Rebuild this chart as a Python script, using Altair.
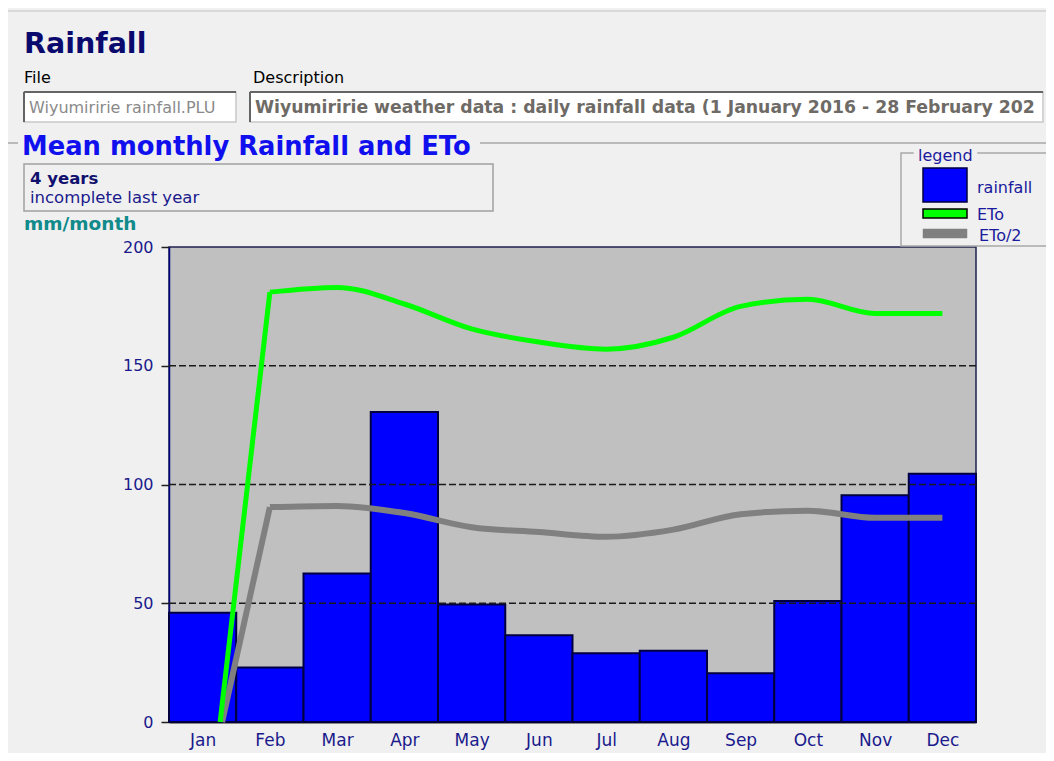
import altair as alt
import pandas as pd

# ---------------- data ----------------
months = ["Jan", "Feb", "Mar", "Apr", "May", "Jun", "Jul", "Aug", "Sep", "Oct", "Nov", "Dec"]
rainfall = [46, 23, 62.5, 130.5, 49.5, 36.5, 29, 30, 20.5, 51, 95.5, 104.5]

# ETo curve read at month centres (first point is where the curve leaves 0)
eto_pos = [0.76, 1.5, 2.5, 3.5, 4.5, 5.5, 6.5, 7.5, 8.5, 9.5, 10.5, 11.5]
eto = [0, 181, 183, 176, 165.5, 160, 157, 162, 175, 178, 172, 172]
eto_half_pos = [0.79, 1.5, 2.5, 3.5, 4.5, 5.5, 6.5, 7.5, 8.5, 9.5, 10.5, 11.5]
eto_half = [0, 90.5, 91, 88, 82, 80, 78, 81, 87.5, 89, 86, 86]

y_ticks = [0, 50, 100, 150, 200]
grid_values = [50, 100, 150]

FONT = "DejaVu Sans"
NAVY = "#1a1a8c"

bars_df = pd.DataFrame({
    "month": months,
    "start": list(range(len(months))),
    "end": [i + 1 for i in range(len(months))],
    "rain": rainfall,
})
eto_df = pd.DataFrame({"pos": eto_pos, "value": eto})
half_df = pd.DataFrame({"pos": eto_half_pos, "value": eto_half})
grid_df = pd.DataFrame({"v": grid_values})

label_expr = "[" + ",".join("'%s'" % m for m in months) + "][floor(datum.value)]"

xscale = alt.Scale(domain=[0, len(months)], nice=False, zero=False)
yscale = alt.Scale(domain=[0, 200], nice=False)

x_axis = alt.Axis(values=[i + 0.5 for i in range(len(months))], labelExpr=label_expr,
                  title=None, grid=False, ticks=False, tickSize=0, labelPadding=23,
                  labelBaseline="alphabetic", labelFont=FONT, labelFontSize=17,
                  labelColor=NAVY, domainColor="#1a1a1a", domainWidth=2)
y_axis = alt.Axis(values=y_ticks, title=None, grid=False, tickSize=8, tickColor="#202020",
                  tickWidth=1.5, labelPadding=8, labelFont=FONT, labelFontSize=16,
                  labelColor=NAVY, domainColor="#000080", domainWidth=1.5)

bars = alt.Chart(bars_df).mark_rect(color="#0000FF", stroke="#000040", strokeWidth=2).encode(
    x=alt.X("start:Q", scale=xscale, axis=x_axis),
    x2="end:Q",
    y=alt.Y("rain:Q", scale=yscale, axis=y_axis),
    y2=alt.datum(0),
)

grid = alt.Chart(grid_df).mark_rule(color="#1a1a1a", strokeWidth=1.5, strokeDash=[7, 3]).encode(
    y=alt.Y("v:Q", scale=yscale)
)


def curve(df, color, width):
    enc = dict(x=alt.X("pos:Q", scale=xscale), y=alt.Y("value:Q", scale=yscale))
    rise = alt.Chart(df).transform_filter("datum.pos <= 1.5").mark_line(
        color=color, strokeWidth=width, interpolate="linear", strokeJoin="miter").encode(**enc)
    rest = alt.Chart(df).transform_filter("datum.pos >= 1.5").mark_line(
        color=color, strokeWidth=width, interpolate="monotone").encode(**enc)
    return [rise, rest]


ONE = alt.Data(values=[{}])


def txt(s, x, y, size, color, weight="normal", limit=0):
    kw = dict(text=s, fontSize=size, color=color, fontWeight=weight, font=FONT,
              align="left", baseline="alphabetic")
    if limit:
        kw["limit"] = limit
        kw["ellipsis"] = " "
    return alt.Chart(ONE).mark_text(**kw).encode(x=alt.value(x), y=alt.value(y))


def box(x1, x2, y1, y2, fill="transparent", stroke="#a0a0a0", sw=1.5):
    return alt.Chart(ONE).mark_rect(fill=fill, stroke=stroke, strokeWidth=sw).encode(
        x=alt.value(x1), x2=alt.value(x2), y=alt.value(y1), y2=alt.value(y2))


def hline(x1, x2, y, color, sw=1):
    return alt.Chart(ONE).mark_rule(color=color, strokeWidth=sw).encode(
        x=alt.value(x1), x2=alt.value(x2), y=alt.value(y))


def vline(x, y1, y2, color, sw=1):
    return alt.Chart(ONE).mark_rule(color=color, strokeWidth=sw).encode(
        x=alt.value(x), y=alt.value(y1), y2=alt.value(y2))


decor = [
    hline(-161, 877, -236, "#d8d8d8", 2),
    txt("Rainfall", -145, -194, 28.5, "#0a0a6e", "bold"),
    txt("File", -145, -164, 16, "#000000"),
    txt("Description", 84, -164, 16, "#000000"),
    box(-145, 67, -155, -125, fill="#ffffff", stroke="#c8c8c8", sw=1.5),
    hline(-145, 67, -155, "#646464", 2), vline(-145, -155, -125, "#646464", 2),
    txt("Wiyumiririe rainfall.PLU", -140, -134, 16, "#8a8a8a", limit=205),
    box(81, 874, -155, -125, fill="#ffffff", stroke="#c8c8c8", sw=1.5),
    hline(81, 874, -155, "#646464", 2), vline(81, -155, -125, "#646464", 2),
    txt("Wiyumiririe weather data : daily rainfall data (1 January 2016 - 28 February 2020)",
        86, -134, 17.3, "#6e6a66", "bold", limit=788),
    hline(-161, -151, -104, "#a8a8a8", 1.5),
    hline(311, 877, -104, "#a8a8a8", 1.5),
    txt("Mean monthly Rainfall and ETo", -147, -92, 25.8, "#1010ee", "bold"),
    box(-145, 324, -83, -36, stroke="#a0a0a0", sw=1.5),
    txt("4 years", -139, -63, 16.5, "#10106e", "bold"),
    txt("incomplete last year", -139, -44, 16.5, "#1a1a8c"),
    txt("mm/month", -145, -17, 18.5, "#108a8a", "bold"),
    box(732, 878, -94, -1, stroke="#a8a8a8", sw=1.5),
    box(745, 808, -98, -89, fill="#F0F0F0", stroke="#F0F0F0", sw=0.5),
    txt("legend", 749, -86, 16, "#1a1a9c"),
    box(754, 798, -79, -45, fill="#0000FF", stroke="#000040", sw=1.5),
    txt("rainfall", 808, -54, 16, "#1a1a9c"),
    box(754, 798, -38, -29, fill="#00FF00", stroke="#000000", sw=1.5),
    txt("ETo", 808, -27, 16, "#1a1a9c"),
    box(754, 798, -18, -9, fill="#808080", stroke="#808080", sw=0.5),
    txt("ETo/2", 810, -6, 16, "#1a1a9c"),
]

chart = alt.layer(bars, grid, *curve(half_df, "#808080", 6), *curve(eto_df, "#00FF00", 5),
                  *decor).properties(
    width=807, height=475,
    autosize=alt.AutoSizeParams(type="none"),
    padding={"left": 161, "top": 239, "right": 70, "bottom": 31},
).configure(background="#F0F0F0").configure_view(
    fill="#C0C0C0", stroke="#202050", strokeWidth=1.5
)

chart.save("out.html", embed_options={"renderer": "svg", "actions": False})
